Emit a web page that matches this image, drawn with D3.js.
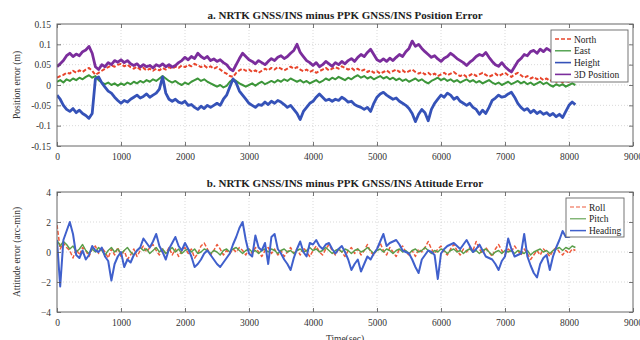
<!DOCTYPE html>
<html>
<head>
<meta charset="utf-8">
<script src="https://cdn.jsdelivr.net/npm/d3@7"></script>
<style>
  html, body { margin: 0; padding: 0; background: #fff; }
  svg { display: block; font-family: "Liberation Serif", "DejaVu Serif", serif; }
</style>
</head>
<body>
<svg id="chart" width="640" height="340"></svg>
<script>
// Sample times (s), one every 50 s
const timeSec = d3.range(0, 8101, 50);

// Position error (m)
const north = [
  0.018,0.022,0.025,0.030,0.028,0.035,0.030,0.036,0.032,0.038,
  0.042,0.035,0.025,0.030,0.035,0.040,0.044,0.048,0.045,0.050,
  0.052,0.046,0.050,0.044,0.040,0.045,0.038,0.042,0.036,0.040,
  0.035,0.040,0.036,0.042,0.038,0.044,0.040,0.045,0.042,0.048,
  0.044,0.050,0.046,0.052,0.048,0.044,0.048,0.042,0.046,0.040,
  0.044,0.038,0.032,0.028,0.022,0.020,0.030,0.036,0.040,0.035,
  0.038,0.032,0.036,0.030,0.035,0.040,0.036,0.042,0.038,0.044,
  0.040,0.036,0.040,0.045,0.040,0.044,0.038,0.034,0.038,0.032,
  0.036,0.030,0.034,0.038,0.042,0.036,0.040,0.044,0.040,0.046,
  0.042,0.038,0.042,0.036,0.040,0.034,0.038,0.032,0.036,0.030,
  0.034,0.028,0.032,0.036,0.030,0.034,0.038,0.032,0.036,0.030,
  0.034,0.038,0.032,0.028,0.032,0.026,0.030,0.024,0.028,0.022,
  0.026,0.030,0.024,0.028,0.032,0.026,0.022,0.026,0.020,0.024,
  0.028,0.022,0.026,0.030,0.025,0.020,0.024,0.028,0.022,0.026,
  0.030,0.024,0.020,0.026,0.030,0.024,0.018,0.022,0.016,0.020,
  0.014,0.018,0.012,0.016,0.010,0.014,0.008,0.012,0.006,0.010,
  0.008,0.012,0.010
];
const east = [
  0.008,0.012,0.006,0.014,0.010,0.016,0.012,0.018,0.014,0.020,
  0.024,0.018,0.022,0.012,0.006,0.002,0.006,0.000,0.004,-0.002,
  0.004,0.000,0.006,0.002,0.008,0.004,0.010,0.006,0.012,0.008,
  0.014,0.010,0.016,0.022,0.016,0.010,0.006,0.010,0.004,0.000,
  0.006,0.002,0.008,0.012,0.016,0.010,0.014,0.008,0.004,0.000,
  -0.004,0.000,-0.006,-0.002,0.008,0.014,0.010,0.004,0.000,-0.004,
  0.000,0.004,-0.002,0.004,0.008,0.002,0.006,0.010,0.006,0.012,
  0.008,0.014,0.010,0.016,0.012,0.008,0.012,0.006,0.010,0.004,
  0.008,0.012,0.006,0.010,0.016,0.012,0.018,0.014,0.020,0.016,
  0.012,0.018,0.014,0.020,0.024,0.018,0.022,0.016,0.020,0.014,
  0.018,0.022,0.016,0.020,0.014,0.018,0.012,0.016,0.010,0.014,
  0.008,0.012,0.016,0.010,0.014,0.008,0.004,0.010,0.014,0.018,
  0.012,0.016,0.010,0.014,0.008,0.012,0.006,0.010,0.014,0.008,
  0.012,0.006,0.010,0.004,0.008,0.012,0.006,0.002,0.006,0.000,
  0.004,0.008,0.002,0.006,0.010,0.004,0.008,0.002,0.006,0.000,
  0.004,0.008,0.002,0.006,0.000,-0.004,0.002,-0.002,0.002,-0.004,
  0.000,0.004,0.000
];
const height = [
  -0.025,-0.035,-0.050,-0.060,-0.065,-0.058,-0.068,-0.062,-0.070,-0.075,
  -0.082,-0.070,0.015,0.020,0.005,-0.005,-0.015,-0.020,-0.030,-0.038,
  -0.045,-0.038,-0.042,-0.035,-0.030,-0.025,-0.032,-0.028,-0.022,-0.030,
  -0.025,-0.020,-0.010,0.020,-0.020,-0.035,-0.040,-0.035,-0.042,-0.045,
  -0.040,-0.050,-0.048,-0.055,-0.060,-0.052,-0.058,-0.050,-0.055,-0.050,
  -0.045,-0.050,-0.035,-0.025,-0.005,0.015,0.005,-0.015,-0.025,-0.035,
  -0.045,-0.050,-0.055,-0.048,-0.050,-0.042,-0.048,-0.040,-0.045,-0.038,
  -0.042,-0.048,-0.055,-0.050,-0.060,-0.070,-0.085,-0.065,-0.055,-0.045,
  -0.040,-0.030,-0.022,-0.030,-0.038,-0.035,-0.040,-0.035,-0.038,-0.030,
  -0.035,-0.042,-0.040,-0.048,-0.052,-0.055,-0.060,-0.055,-0.065,-0.045,
  -0.030,-0.022,-0.018,-0.025,-0.030,-0.035,-0.032,-0.040,-0.045,-0.050,
  -0.058,-0.070,-0.090,-0.072,-0.060,-0.068,-0.088,-0.060,-0.045,-0.035,
  -0.025,-0.030,-0.020,-0.025,-0.035,-0.030,-0.040,-0.045,-0.050,-0.045,
  -0.055,-0.060,-0.072,-0.062,-0.070,-0.055,-0.038,-0.032,-0.025,-0.030,
  -0.028,-0.022,-0.018,-0.030,-0.045,-0.055,-0.062,-0.058,-0.068,-0.062,
  -0.070,-0.065,-0.072,-0.068,-0.075,-0.070,-0.078,-0.072,-0.080,-0.065,
  -0.050,-0.042,-0.048
];
const position3D = [
  0.045,0.052,0.060,0.072,0.078,0.070,0.076,0.072,0.082,0.086,
  0.095,0.078,0.045,0.038,0.050,0.045,0.055,0.050,0.060,0.056,
  0.062,0.055,0.060,0.052,0.048,0.052,0.044,0.050,0.045,0.048,
  0.042,0.050,0.046,0.052,0.045,0.050,0.044,0.048,0.055,0.060,
  0.068,0.062,0.070,0.065,0.078,0.070,0.065,0.070,0.060,0.064,
  0.058,0.062,0.055,0.050,0.040,0.035,0.050,0.065,0.078,0.070,
  0.062,0.058,0.052,0.060,0.055,0.050,0.058,0.065,0.060,0.068,
  0.072,0.065,0.070,0.078,0.085,0.100,0.080,0.070,0.060,0.055,
  0.048,0.055,0.045,0.050,0.058,0.052,0.046,0.055,0.050,0.058,
  0.052,0.060,0.065,0.058,0.068,0.075,0.070,0.080,0.088,0.075,
  0.062,0.058,0.064,0.058,0.066,0.060,0.068,0.075,0.070,0.082,
  0.090,0.108,0.095,0.100,0.090,0.082,0.075,0.068,0.072,0.064,
  0.058,0.066,0.070,0.078,0.072,0.065,0.060,0.055,0.048,0.056,
  0.062,0.070,0.075,0.072,0.080,0.068,0.058,0.050,0.046,0.055,
  0.045,0.038,0.032,0.045,0.058,0.065,0.075,0.072,0.082,0.085,
  0.078,0.088,0.082,0.090,0.085,0.080,0.072,0.065,0.070,0.076,
  0.070,0.078,0.072
];

// Attitude error (arc-min)
const roll = [
  1.8,0.2,0.6,0.3,0.1,-0.4,0.2,-0.2,0.3,0.1,
  -0.3,0.2,0.4,-0.1,0.3,0.0,-0.4,0.2,-0.2,0.3,
  -0.3,0.1,-0.5,-0.2,0.2,-0.3,0.1,0.4,0.0,0.3,
  0.5,0.1,-0.2,0.2,-0.1,0.3,-0.2,0.2,-0.3,0.1,
  0.3,-0.1,0.2,-0.4,-0.1,0.4,0.6,0.2,-0.2,0.1,
  0.5,0.2,-0.2,0.1,-0.1,0.2,0.0,0.3,0.1,-0.2,
  0.2,-0.1,0.3,0.0,-0.3,0.1,0.3,-0.1,0.2,-0.2,
  0.1,-0.3,0.0,0.3,-0.1,0.2,-0.2,0.3,0.0,-0.3,
  0.1,0.4,0.0,-0.2,0.2,0.5,0.1,-0.2,0.2,0.0,
  -0.3,0.1,0.3,-0.1,0.2,-0.2,0.1,0.5,0.0,-0.2,
  0.2,0.6,0.1,-0.2,0.3,0.0,-0.3,0.2,0.4,0.0,
  -0.2,0.1,-0.3,0.2,0.0,0.3,0.7,0.2,-0.1,0.2,
  0.4,0.0,-0.2,0.2,0.5,0.1,-0.2,0.2,0.0,0.3,
  0.1,0.7,0.2,-0.1,0.3,0.0,-0.3,0.2,0.5,0.1,
  -0.2,0.2,0.0,0.4,0.1,-0.2,0.2,-0.1,-0.5,-0.2,
  0.1,-0.2,0.2,0.0,-0.3,0.1,0.3,0.0,-0.2,0.1,
  -0.1,0.2,0.1
];
const pitch = [
  0.8,0.4,0.7,0.5,0.2,0.4,0.0,0.2,0.5,0.1,
  -0.1,0.2,0.0,0.3,0.1,-0.2,0.1,0.3,0.0,0.2,
  -0.1,0.1,0.3,0.0,-0.2,0.1,0.3,0.1,0.2,-0.1,
  0.1,0.3,0.0,0.2,-0.1,0.1,0.3,0.0,0.2,-0.1,
  0.1,0.2,0.0,0.2,-0.1,0.0,0.2,0.1,-0.1,0.1,
  0.0,-0.2,0.1,0.2,0.0,0.2,0.3,0.1,-0.1,0.1,
  0.2,0.0,0.1,-0.1,0.1,0.2,0.0,0.2,0.1,-0.1,
  0.1,0.2,0.0,0.1,-0.1,0.1,0.2,0.0,0.1,0.3,
  0.1,0.2,0.0,0.1,0.3,0.1,-0.1,0.1,0.2,0.0,
  0.2,0.1,-0.1,0.1,0.2,0.0,0.1,0.3,0.1,-0.1,
  0.1,0.2,0.0,0.2,0.1,-0.1,0.1,0.2,0.0,0.1,
  -0.1,0.1,0.2,0.0,0.1,0.3,0.1,-0.1,0.1,0.0,
  0.2,0.1,-0.1,0.1,0.2,0.0,0.1,-0.1,0.1,0.2,
  0.0,0.1,-0.1,0.1,0.2,0.0,-0.2,0.0,0.1,-0.1,
  0.1,0.0,0.1,-0.1,0.1,0.0,-0.1,0.1,-0.2,0.0,
  0.1,0.2,0.0,0.1,-0.1,0.1,0.2,0.3,0.1,0.3,
  0.2,0.4,0.3
];
const heading = [
  0.8,-2.3,0.8,1.4,2.0,1.2,-0.2,-0.4,0.1,-0.5,
  -0.2,0.4,0.1,0.0,0.3,-0.3,-0.6,-1.9,-0.8,-0.3,
  0.0,-1.0,-0.5,-0.7,-0.2,0.1,0.3,0.9,0.6,0.3,
  0.7,1.2,0.4,0.0,-0.5,0.2,0.6,1.0,0.4,0.1,
  0.6,0.2,-0.3,-1.0,-0.8,-0.5,-0.1,0.1,-0.2,-0.5,
  -0.8,-1.0,-0.7,-0.4,-0.1,0.5,1.0,1.6,2.0,0.8,
  -0.1,-0.3,1.1,0.3,0.1,0.6,-0.8,1.0,1.2,0.2,
  -0.1,-0.5,-0.8,-1.2,-0.4,0.2,0.7,0.0,-0.3,0.6,
  0.5,0.8,0.4,0.2,0.5,0.6,0.2,-0.1,0.2,0.4,
  0.0,-0.5,-1.2,-0.8,-0.5,-1.3,-0.8,-0.3,-0.5,-0.1,
  0.2,0.7,1.2,0.4,0.6,0.7,0.8,0.5,0.1,0.0,
  -0.1,-0.5,-1.0,-1.4,-0.5,-0.2,0.1,0.0,-0.2,-1.8,
  -0.1,0.2,0.4,0.5,0.6,0.4,0.2,0.5,0.8,0.4,
  0.0,0.2,0.5,0.1,-0.3,-0.4,-0.5,-0.8,-1.2,-0.6,
  -0.3,0.9,0.2,-0.3,-0.2,-0.1,1.2,-0.3,-0.9,-1.4,
  -1.7,-0.8,-0.4,-0.2,-1.2,-0.3,0.3,0.8,1.4,1.0,
  1.0,1.2,1.4
];

// Axis ticks
const xTicks = [0, 1000, 2000, 3000, 4000, 5000, 6000, 7000, 8000, 9000];
const posTicks = [-0.15, -0.1, -0.05, 0, 0.05, 0.1, 0.15];
const attTicks = [-4, -2, 0, 2, 4];

const svg = d3.select("#chart");
const left = 57, right = 633;

function panel(cfg) {
  const x = d3.scaleLinear().domain([0, 9000]).range([left, right]);
  const y = d3.scaleLinear().domain(cfg.domain).range([cfg.bottom, cfg.top]);
  const g = svg.append("g");

  // dotted grid
  g.append("g").selectAll("line").data(xTicks.slice(1, -1)).join("line")
    .attr("x1", d => x(d)).attr("x2", d => x(d))
    .attr("y1", cfg.top).attr("y2", cfg.bottom)
    .attr("stroke", "#c8c8c8").attr("stroke-width", 0.7).attr("stroke-dasharray", "1,2");
  g.append("g").selectAll("line").data(cfg.yTicks.slice(1, -1)).join("line")
    .attr("x1", left).attr("x2", right)
    .attr("y1", d => y(d)).attr("y2", d => y(d))
    .attr("stroke", "#c8c8c8").attr("stroke-width", 0.7).attr("stroke-dasharray", "1,2");

  // series
  const clipId = "clip" + cfg.id;
  svg.append("clipPath").attr("id", clipId).append("rect")
    .attr("x", left).attr("y", cfg.top).attr("width", right - left).attr("height", cfg.bottom - cfg.top);
  const lines = g.append("g").attr("clip-path", `url(#${clipId})`);
  cfg.series.forEach(s => {
    const line = d3.line().x((d, i) => x(timeSec[i])).y(d => y(d));
    lines.append("path").datum(s.values)
      .attr("d", line)
      .attr("fill", "none")
      .attr("stroke", s.color)
      .attr("stroke-width", s.width)
      .attr("stroke-dasharray", s.dash || null)
      .attr("stroke-linejoin", "round");
  });

  // axes (ticks inside on all four sides)
  const axisStyle = sel => {
    sel.select(".domain").remove();
    sel.selectAll(".tick line").attr("stroke", "#555").attr("stroke-width", 0.8);
    sel.selectAll(".tick text").attr("fill", "#333").style("font-size", "9.5px")
      .style("font-family", "'Liberation Serif', serif");
  };
  g.append("g").attr("transform", `translate(0,${cfg.bottom})`)
    .call(d3.axisBottom(x).tickValues(xTicks).tickSize(-4).tickPadding(7).tickFormat(d3.format("d")))
    .call(axisStyle);
  g.append("g").attr("transform", `translate(0,${cfg.top})`)
    .call(d3.axisTop(x).tickValues(xTicks).tickSize(-4).tickFormat(""))
    .call(axisStyle);
  g.append("g").attr("transform", `translate(${left},0)`)
    .call(d3.axisLeft(y).tickValues(cfg.yTicks).tickSize(-4).tickPadding(6).tickFormat(cfg.fmt))
    .call(axisStyle);
  g.append("g").attr("transform", `translate(${right},0)`)
    .call(d3.axisRight(y).tickValues(cfg.yTicks).tickSize(-4).tickFormat(""))
    .call(axisStyle);

  g.append("rect").attr("x", left).attr("y", cfg.top)
    .attr("width", right - left).attr("height", cfg.bottom - cfg.top)
    .attr("fill", "none").attr("stroke", "#666").attr("stroke-width", 1);

  // title
  g.append("text").attr("x", (left + right) / 2).attr("y", cfg.top - 5)
    .attr("text-anchor", "middle").attr("font-weight", "bold")
    .style("font-size", "11px").attr("fill", "#222").text(cfg.title);

  // y label
  g.append("text")
    .attr("transform", `translate(20,${(cfg.top + cfg.bottom) / 2}) rotate(-90)`)
    .attr("text-anchor", "middle").style("font-size", "9.5px").attr("fill", "#333")
    .text(cfg.ylabel);

  // legend
  const L = cfg.legend;
  const lg = g.append("g");
  lg.append("rect").attr("x", L.x).attr("y", L.y).attr("width", L.w).attr("height", L.h)
    .attr("fill", "#fff").attr("stroke", "#666").attr("stroke-width", 0.9);
  cfg.series.forEach((s, i) => {
    const yy = L.y + 9 + i * L.step;
    lg.append("line").attr("x1", L.x + 4).attr("x2", L.x + 20).attr("y1", yy).attr("y2", yy)
      .attr("stroke", s.color).attr("stroke-width", s.legendWidth || s.width)
      .attr("stroke-dasharray", s.dash || null);
    lg.append("text").attr("x", L.x + 23).attr("y", yy + 3.5)
      .style("font-size", "9.5px").attr("fill", "#222").text(s.name);
  });
  return { x, y, g };
}

panel({
  id: "a", top: 24, bottom: 146, domain: [-0.15, 0.15], yTicks: posTicks,
  fmt: d => d === 0 ? "0" : String(+d.toFixed(2)),
  title: "a. NRTK GNSS/INS minus PPK GNSS/INS Position Error",
  ylabel: "Position error (m)",
  legend: { x: 551, y: 30, w: 77, h: 52, step: 11.8 },
  series: [
    { name: "North", values: north, color: "#e8452c", width: 2.0, dash: "4,2", legendWidth: 1.3 },
    { name: "East", values: east, color: "#3d963a", width: 2.0, legendWidth: 1.3 },
    { name: "Height", values: height, color: "#3552b8", width: 2.8, legendWidth: 1.6 },
    { name: "3D Position", values: position3D, color: "#7b2d9c", width: 2.8, legendWidth: 1.6 }
  ]
});

panel({
  id: "b", top: 192, bottom: 312, domain: [-4, 4], yTicks: attTicks,
  fmt: d3.format("d"),
  title: "b. NRTK GNSS/INS minus PPK GNSS/INS Attitude Error",
  ylabel: "Attitude error (arc-min)",
  legend: { x: 566, y: 198, w: 58, h: 39, step: 11.8 },
  series: [
    { name: "Roll", values: roll, color: "#ee5a3c", width: 1.5, dash: "4,2", legendWidth: 1.2 },
    { name: "Pitch", values: pitch, color: "#5a9e4a", width: 1.4, legendWidth: 1.1 },
    { name: "Heading", values: heading, color: "#4060cc", width: 2.0, legendWidth: 1.5 }
  ]
});

// shared x label (partly below the bottom edge)
svg.append("text").attr("x", 345).attr("y", 342)
  .attr("text-anchor", "middle").style("font-size", "9.5px").attr("fill", "#333")
  .text("Time(sec)");
</script>
</body>
</html>
